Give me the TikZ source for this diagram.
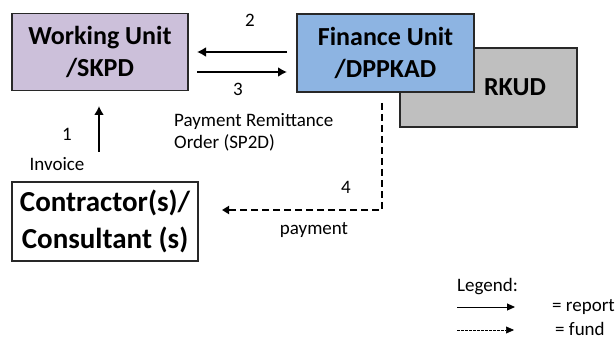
\documentclass[tikz,border=0pt]{standalone}
\usepackage{fontspec}
\setmainfont{Carlito}
\usetikzlibrary{arrows.meta}
\definecolor{wu}{RGB}{204,192,218}
\definecolor{fu}{RGB}{141,180,226}
\definecolor{rk}{RGB}{191,191,191}
\definecolor{bd}{RGB}{40,40,40}
\begin{document}
\begin{tikzpicture}[x=1pt,y=-1pt,
  box/.style={draw=bd,line width=1.3pt,inner sep=0pt,font=\bfseries\fontsize{26}{32}\selectfont,align=center},
  lbl/.style={font=\fontsize{19}{22}\selectfont,inner sep=0pt},
  rep/.style={line width=2.8pt,-{Latex[length=9pt,width=10pt]}},
  fundarr/.style={line width=2.6pt,dash pattern=on 7pt off 4pt,-{Triangle[length=7pt,width=8pt]}}]
\useasboundingbox (0,0) rectangle (615,339);
\node[box,fill=rk,minimum width=177pt,minimum height=79pt] (rkud) at (488.5,87.5) {};
\node[font=\bfseries\fontsize{26}{32}\selectfont] (rkudt) at (515,87) {RKUD};
\node[box,fill=wu,minimum width=176pt,minimum height=77pt] (wu) at (100,52) {Working Unit\\/SKPD};
\node[box,fill=fu,minimum width=177pt,minimum height=78pt] (fu) at (385.5,53) {Finance Unit\\/DPPKAD};
\node[box,fill=white,minimum width=186pt,minimum height=79pt,font=\bfseries\fontsize{29}{37}\selectfont] (con) at (105,221.5) {Contractor(s)/\\Consultant (s)};
\coordinate (a2s) at (287,52); \coordinate (a2e) at (197,52);
\coordinate (a3s) at (197,72); \coordinate (a3e) at (287,72);
\draw[rep] (a2s) -- (a2e);
\draw[rep] (a3s) -- (a3e);
\node[lbl] (n2) at (250,20) {2};
\node[lbl] (n3) at (238,89) {3};
\coordinate (a1s) at (99,152); \coordinate (a1e) at (99,106);
\draw[rep] (a1s) -- (a1e);
\node[lbl] (n1) at (67,134) {1};
\node[lbl] (inv) at (57,164) {Invoice};
\node[lbl,anchor=west,align=left] (sp2d) at (174,132) {Payment Remittance\\Order (SP2D)};
\coordinate (d1) at (382,103); \coordinate (d2) at (382,210); \coordinate (d3) at (222,210);
\draw[fundarr] (d1) -- (d2) -- (d3);
\node[lbl] (n4) at (346,187) {4};
\node[lbl] (pay) at (314,230) {payment};
\node[lbl,anchor=west] (leg) at (457,287) {Legend:};
\coordinate (l1s) at (457,307); \coordinate (l1e) at (515,307);
\draw[line width=1pt,-{Triangle[length=8pt,width=7pt]}] (l1s) -- (l1e);
\node[lbl,anchor=west] (rep) at (552,307) {= report};
\coordinate (l2s) at (457,330); \coordinate (l2e) at (514,330);
\draw[line width=0.6pt,dash pattern=on 2.5pt off 1.5pt,-{Triangle[length=8pt,width=7pt]}] (l2s) -- (l2e);
\node[lbl,anchor=west] (fund) at (555,329) {= fund};
\end{tikzpicture}
\end{document}
